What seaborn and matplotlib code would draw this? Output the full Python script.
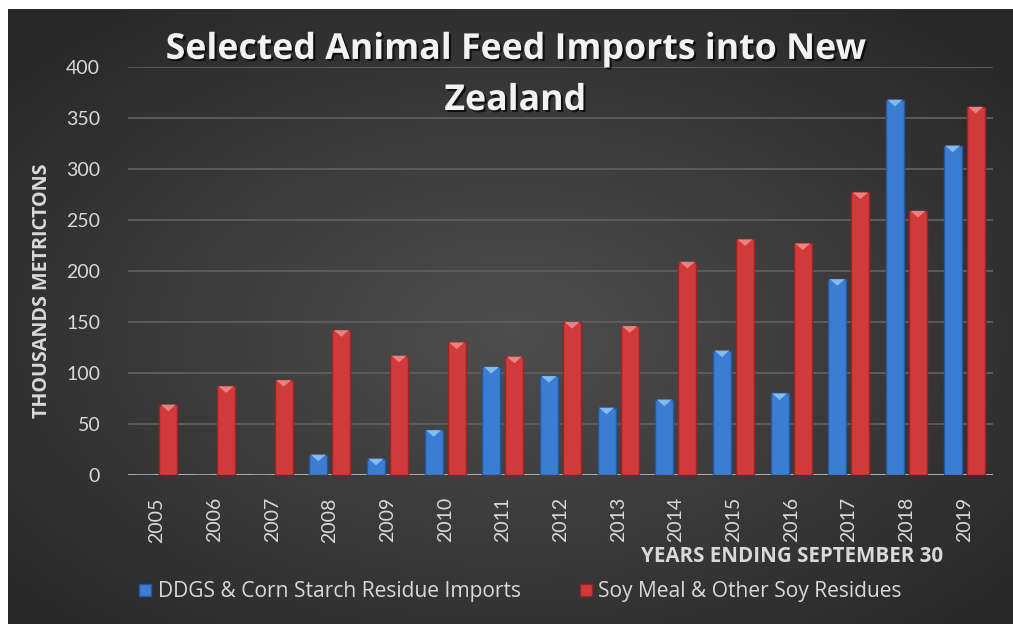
import numpy as np
import pandas as pd
import matplotlib
matplotlib.use("Agg")
import matplotlib.pyplot as plt
import matplotlib.patheffects as pe
from matplotlib.lines import Line2D
from matplotlib.patches import Polygon
import seaborn as sns

years = ["2005", "2006", "2007", "2008", "2009", "2010", "2011", "2012",
         "2013", "2014", "2015", "2016", "2017", "2018", "2019"]
ddgs = [0, 0, 0, 20, 16, 44, 106, 97, 66, 74, 122, 80, 192, 368, 323]
soy = [69, 87, 93, 142, 117, 130, 116, 150, 146, 209, 231, 227, 277, 259, 361]
series_names = ["DDGS & Corn Starch Residue Imports", "Soy Meal & Other Soy Residues"]
title_text = "Selected Animal Feed Imports into New\nZealand"
y_label = "THOUSANDS METRICTONS"
x_label = "YEARS ENDING SEPTEMBER 30"
y_ticks = [0, 50, 100, 150, 200, 250, 300, 350, 400]

df = pd.DataFrame({
    "year": years * 2,
    "value": ddgs + soy,
    "series": [series_names[0]] * len(years) + [series_names[1]] * len(years),
})

sns.set_theme(style="dark")
plt.rcParams["font.family"] = ["Lato", "DejaVu Sans"]

W, H = 1013, 624
fig = plt.figure(figsize=(W / 100, H / 100), dpi=100, facecolor="white")

# dark radial background (chart area)
bg = fig.add_axes([8 / W, 0, 1 - 8 / W, 1 - 9 / H], zorder=-10)
gx, gy = np.meshgrid(np.linspace(-1, 1, 400), np.linspace(-1, 1, 250))
r = np.sqrt(((gx - 0.0) / 1.0) ** 2 + ((gy - 0.05) / 1.0) ** 2)
r = np.clip(r / 1.35, 0, 1)
val = 0.305 - 0.15 * r
img = np.dstack([val, val, val])
bg.imshow(img, aspect="auto", extent=[0, 1, 0, 1], interpolation="bilinear")
bg.set_axis_off()

ax = fig.add_axes([128 / W, (H - 475) / H, (993 - 128) / W, (475 - 67) / H])
ax.set_facecolor("none")

blue = "#3b7dd3"
red = "#d13a3a"
sns.barplot(data=df, x="year", y="value", hue="series", palette=[blue, red],
            width=0.8, gap=0.22, ax=ax, legend=False, saturation=1)

ax.set_ylim(0, 400)
ax.set_yticks(y_ticks)
ax.yaxis.grid(True, color="#5c5c5c", linewidth=1.4)
ax.xaxis.grid(False)
ax.set_axisbelow(True)
for s in ax.spines.values():
    s.set_visible(False)
ax.axhline(0, color="#a9a9a9", linewidth=2.2, zorder=1)

ax.tick_params(axis="both", length=0, colors="#d9d9d9", labelsize=14)
ax.tick_params(axis="y", pad=20)
ax.tick_params(axis="x", pad=16)
plt.setp(ax.get_xticklabels(), rotation=90)
ax.set_xlabel("")
ax.set_ylabel("")

edge_cols = {blue: "#24589e", red: "#982424"}
tip_cols = {blue: "#8cc4f5", red: "#f08a8a"}
for p in ax.patches:
    fc = matplotlib.colors.to_hex(p.get_facecolor())
    key = blue if fc == blue else red
    p.set_edgecolor(edge_cols[key])
    p.set_linewidth(1.0)
    p.set_zorder(3)
    h = p.get_height()
    if h > 3:
        x0 = p.get_x()
        w = p.get_width()
        top = p.get_y() + h
        tri = Polygon([[x0 + w * 0.08, top], [x0 + w * 0.92, top], [x0 + w / 2, top - 6.5]],
                      closed=True, facecolor=tip_cols[key], edgecolor="none", zorder=4, alpha=0.9)
        ax.add_patch(tri)

fig.text(515 / W, 1 - 110 / H, title_text, ha="center", va="baseline", color="#f2f2f2",
         fontsize=25.7, fontweight="bold", linespacing=1.56,
         family=["Open Sans", "DejaVu Sans"],
         path_effects=[pe.withSimplePatchShadow(offset=(1.5, -1.5), shadow_rgbFace="black", alpha=0.7)])

fig.text(42 / W, 1 - 291 / H, y_label, rotation=90, ha="center", va="center",
         color="#d9d9d9", fontsize=14.2, fontweight="bold", family=["Open Sans", "DejaVu Sans"])
fig.text(943 / W, 1 - 557 / H, x_label, ha="right", va="center",
         color="#d9d9d9", fontsize=14.8, fontweight="bold", family=["Open Sans", "DejaVu Sans"])

handles = [Line2D([], [], linestyle="none", marker="s", markersize=8.6,
                  markerfacecolor=blue, markeredgecolor=edge_cols[blue]),
           Line2D([], [], linestyle="none", marker="s", markersize=8.6,
                  markerfacecolor=red, markeredgecolor=edge_cols[red])]
leg = fig.legend(handles, series_names, loc="center left", bbox_to_anchor=(139 / W, 1 - 592 / H),
                 ncol=2, frameon=False, handlelength=0.6, handletextpad=0.3,
                 columnspacing=2.8, borderaxespad=0, borderpad=0,
                 prop={"family": ["Open Sans", "DejaVu Sans"], "size": 15.1})
for t in leg.get_texts():
    t.set_color("#d9d9d9")

fig.savefig("out.png", dpi=100, facecolor="white")
